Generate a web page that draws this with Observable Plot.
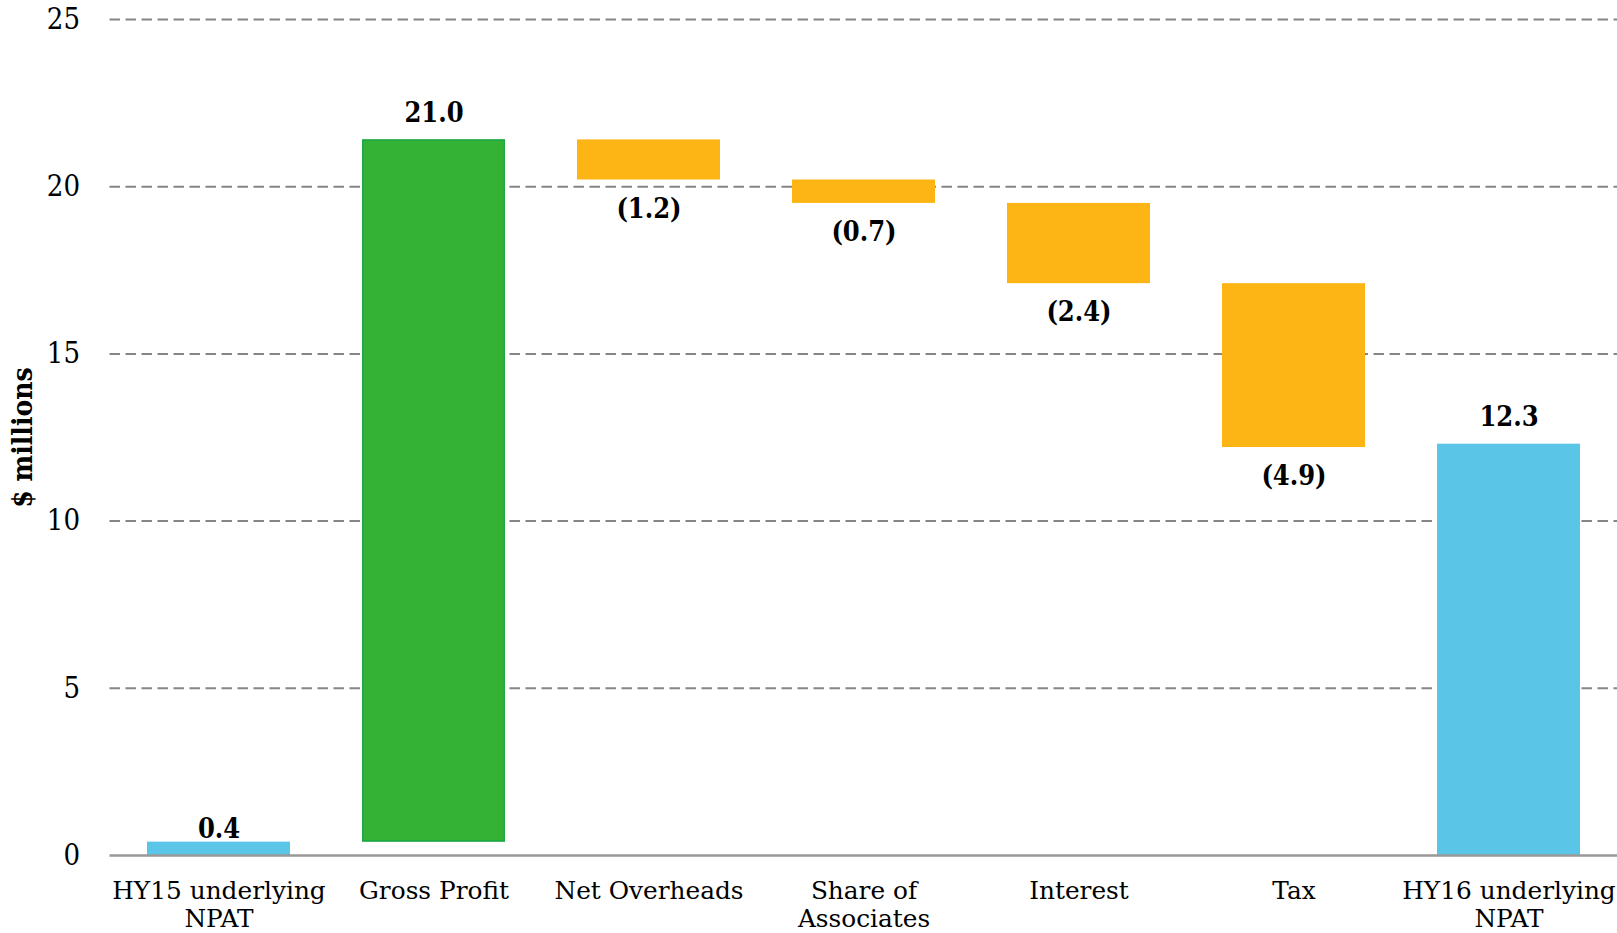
<!DOCTYPE html>
<html>
<head>
<meta charset="utf-8">
<script src="https://cdn.jsdelivr.net/npm/d3@7"></script>
<script src="https://cdn.jsdelivr.net/npm/@observablehq/plot@0.6"></script>
<style>
  html, body { margin: 0; padding: 0; background: #fff; }
  #chart svg { display: block; }
</style>
</head>
<body>
<div id="chart"></div>
<script>
const categories = ["HY15 underlying NPAT", "Gross Profit", "Net Overheads", "Share of Associates", "Interest", "Tax", "HY16 underlying NPAT"];
const tickLabels = ["HY15 underlying\nNPAT", "Gross Profit", "Net Overheads", "Share of\nAssociates", "Interest", "Tax", "HY16 underlying\nNPAT"];
const changes = [0.4, 21.0, -1.2, -0.7, -2.4, -4.9, 12.3];
const kinds = ["total", "increase", "decrease", "decrease", "decrease", "decrease", "total"];
const kindNames = ["total", "increase", "decrease"];
const kindColors = ["#5BC5E7", "#34B235", "#FDB515"];
const yTicks = [0, 5, 10, 15, 20, 25];

const FONT_C = "'DejaVu Serif Condensed', 'DejaVu Serif', serif";
const FONT = "'DejaVu Serif', serif";

let running = 0;
const data = categories.map((cat, i) => {
  const v = changes[i];
  let start, end;
  if (kinds[i] === "total") { start = 0; end = v; running = v; }
  else { start = running; end = running + v; running = end; }
  const label = v < 0 ? `(${Math.abs(v).toFixed(1)})` : v.toFixed(1);
  return {cat, kind: kinds[i], start, end, top: Math.max(start, end), bottom: Math.min(start, end), value: v, label, i};
});

const labelOf = new Map(categories.map((c, i) => [c, tickLabels[i]]));

const chart = Plot.plot({
  width: 1617,
  height: 933,
  marginLeft: 109.5,
  marginRight: -1.5,
  marginTop: 19,
  marginBottom: 78,
  style: {fontFamily: FONT_C, color: "#000", background: "#fff"},
  x: {domain: categories, paddingInner: 0.333, paddingOuter: 0.1665, label: null},
  y: {domain: [0, 25], label: null},
  color: {domain: kindNames, range: kindColors},
  marks: [
    Plot.gridY(yTicks.filter(d => d > 0), {stroke: "#858585", strokeOpacity: 1, strokeWidth: 2, strokeDasharray: "10.5,5.5"}),
    Plot.barY(data, {x: "cat", y1: "start", y2: "end", fill: "kind"}),
    Plot.barY(data.filter(d => d.kind === "increase"), {x: "cat", y1: "start", y2: "end", fill: "kind", stroke: "#1EA84A", strokeWidth: 1.5, inset: 0.75}),
    Plot.ruleY([0], {stroke: "#999", strokeWidth: 2.5}),
    Plot.axisY(yTicks, {tickSize: 0, tickPadding: 30, fontSize: 29, label: null}),
    Plot.axisX({tickSize: 0, tickPadding: 23.5, fontSize: 24.8, fontFamily: FONT, lineHeight: 1.13, tickFormat: d => labelOf.get(d), label: null}),
    Plot.text(data.filter(d => d.value >= 0 && d.i > 0), {x: "cat", y: "top", text: "label", dy: -27, fontSize: 27, fontWeight: "bold"}),
    Plot.text(data.filter(d => d.i === 0), {x: "cat", y: "top", text: "label", dy: -13, fontSize: 27, fontWeight: "bold"}),
    Plot.text(data.filter(d => d.value < 0), {x: "cat", y: "bottom", text: "label", dy: 29, fontSize: 27, fontWeight: "bold"}),
    Plot.text(["$ millions"], {frameAnchor: "left", textAnchor: "middle", rotate: -90, dx: -87, fontSize: 28, fontWeight: "bold"})
  ]
});

document.getElementById("chart").appendChild(chart);
</script>
</body>
</html>
